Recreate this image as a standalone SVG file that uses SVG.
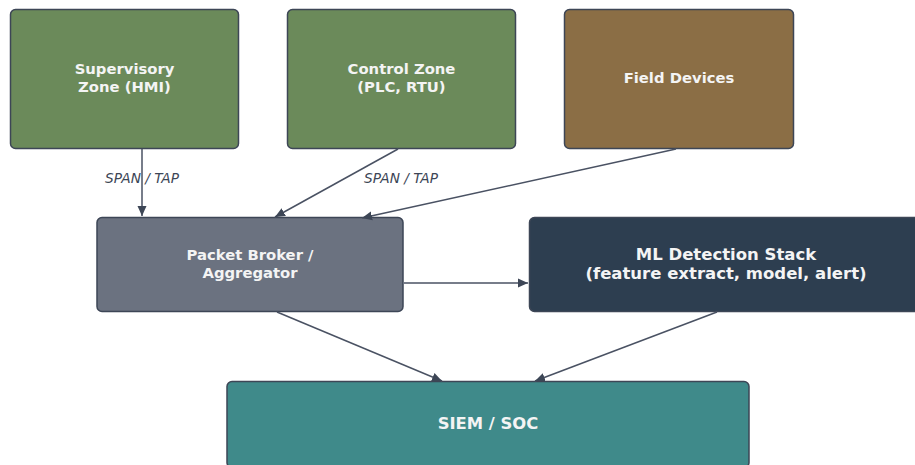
<svg xmlns="http://www.w3.org/2000/svg" width="915" height="465" viewBox="0 0 915 465">
  <defs>
    <marker id="arrow" viewBox="0 0 10 10" refX="10" refY="5" markerWidth="10" markerHeight="10" markerUnits="userSpaceOnUse" orient="auto">
      <path d="M0,0.5 L10,5 L0,9.5 Z" fill="#3d4656"/>
    </marker>
    <style>
      .box { stroke: #3d4656; stroke-width: 1.5; }
      .lbl { font-family: "DejaVu Sans", "Liberation Sans", sans-serif; font-weight: bold; fill: #f4f4f4; text-anchor: middle; }
      .edge { stroke: #4a5263; stroke-width: 1.5; fill: none; marker-end: url(#arrow); }
      .elbl { font-family: "DejaVu Sans", "Liberation Sans", sans-serif; font-style: italic; font-size: 13.7px; fill: #3d4656; text-anchor: middle; }
    </style>
  </defs>
  <rect width="915" height="465" fill="#ffffff"/>

  <g id="supervisory">
    <rect class="box" x="10.5" y="9.5" width="228" height="139" rx="5" fill="#6b8a5a"/>
    <text class="lbl" x="124.5" y="73.5" font-size="14.8">Supervisory</text>
    <text class="lbl" x="124.5" y="91.5" font-size="14.8">Zone (HMI)</text>
  </g>

  <g id="control">
    <rect class="box" x="287.5" y="9.5" width="228" height="139" rx="5" fill="#6b8a5a"/>
    <text class="lbl" x="401.5" y="73.5" font-size="14.8">Control Zone</text>
    <text class="lbl" x="401.5" y="91.5" font-size="14.8">(PLC, RTU)</text>
  </g>

  <g id="field">
    <rect class="box" x="564.5" y="9.5" width="229" height="139" rx="5" fill="#8b6e45"/>
    <text class="lbl" x="679" y="82.5" font-size="14.8">Field Devices</text>
  </g>

  <g id="broker">
    <rect class="box" x="97" y="217.5" width="306" height="94" rx="5" fill="#6b7280"/>
    <text class="lbl" x="250" y="259.5" font-size="14.8">Packet Broker /</text>
    <text class="lbl" x="250" y="277.5" font-size="14.8">Aggregator</text>
  </g>

  <g id="ml">
    <rect class="box" x="529.5" y="217.5" width="393" height="94" rx="5" fill="#2d3e50"/>
    <text class="lbl" x="726" y="260" font-size="16.5">ML Detection Stack</text>
    <text class="lbl" x="726" y="278.5" font-size="16.5">(feature extract, model, alert)</text>
  </g>

  <g id="siem">
    <rect class="box" x="227" y="381.5" width="522" height="86" rx="5" fill="#3f8a8a"/>
    <text class="lbl" x="488" y="429" font-size="16.4">SIEM / SOC</text>
  </g>

  <g id="connectors">
    <line class="edge" x1="142" y1="149" x2="142" y2="216"/>
    <line class="edge" x1="398" y1="149" x2="275" y2="217"/>
    <line class="edge" x1="676" y1="149" x2="362" y2="218"/>
    <line class="edge" x1="404" y1="283" x2="528" y2="283" stroke-width="2"/>
    <line class="edge" x1="277" y1="312" x2="442" y2="381"/>
    <line class="edge" x1="717" y1="312" x2="535" y2="381"/>
    <text class="elbl" x="142" y="183">SPAN / TAP</text>
    <text class="elbl" x="401" y="183">SPAN / TAP</text>
  </g>
</svg>
